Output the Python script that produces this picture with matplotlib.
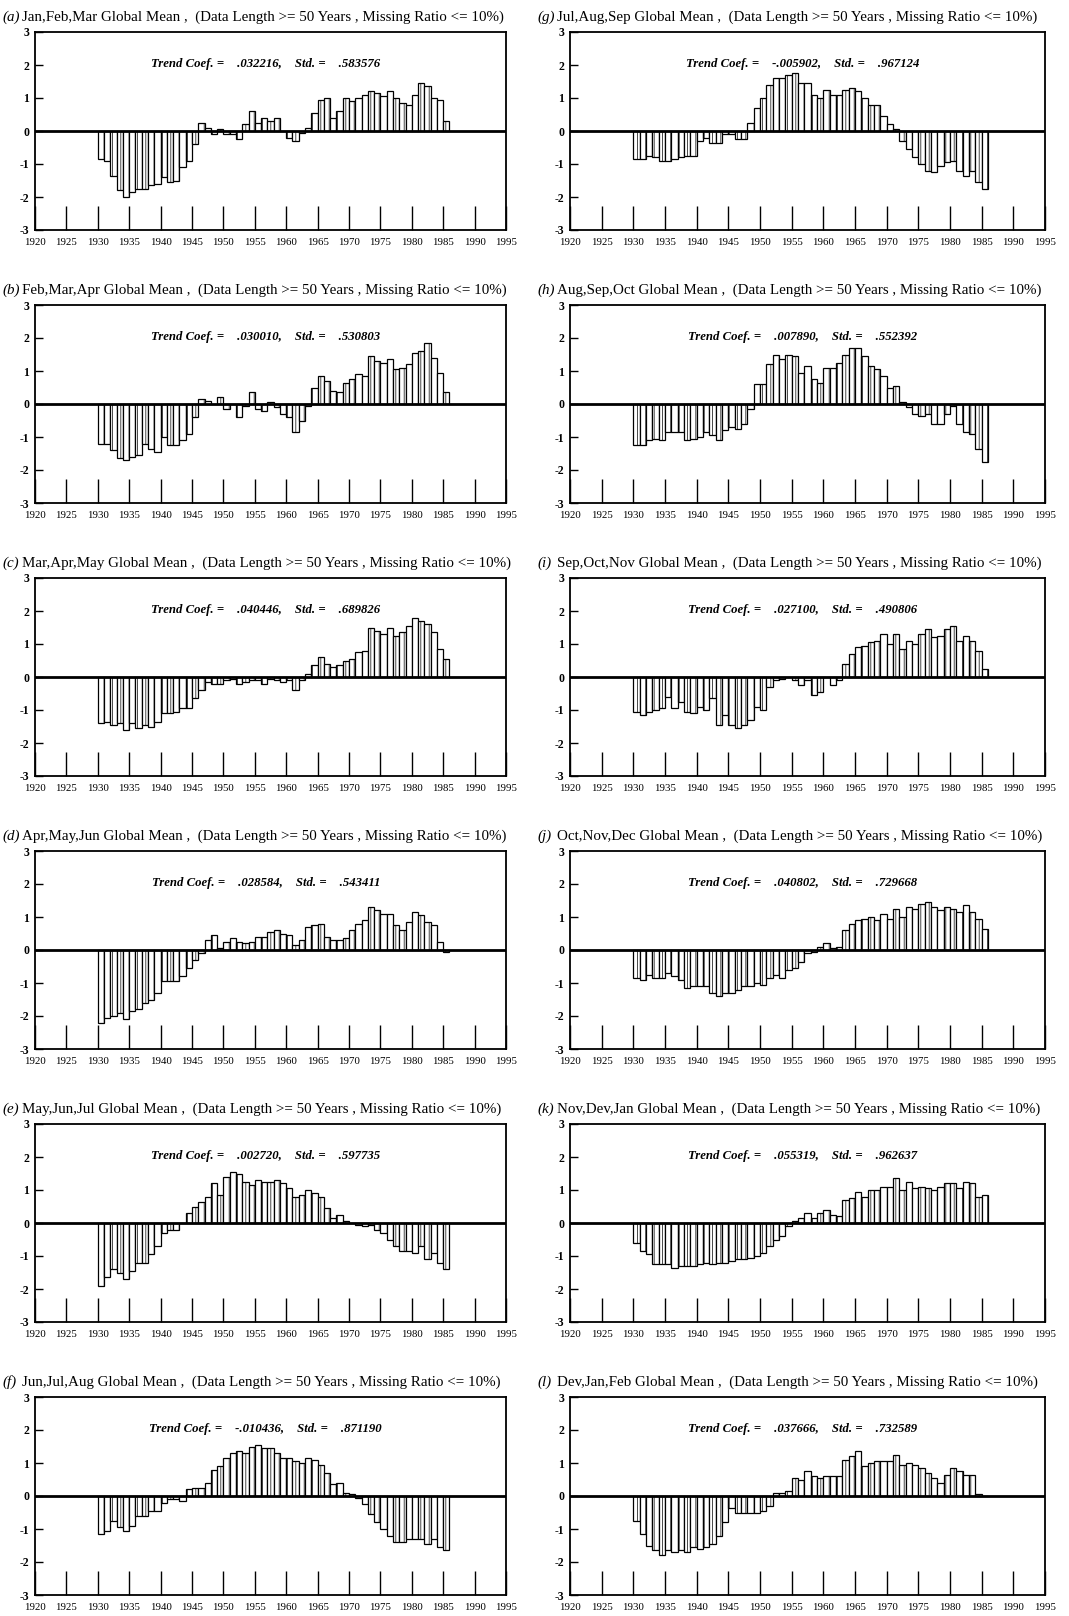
import matplotlib
matplotlib.use('Agg')
import matplotlib.pyplot as plt
import numpy as np

plt.rcParams['axes.unicode_minus'] = False
plt.rcParams['hatch.linewidth'] = 0.5
plt.rcParams['font.family'] = ['Liberation Serif', 'DejaVu Serif']

years = list(range(1930, 1986))

jfm = [-0.85, -0.9, -1.35, -1.8, -2.0, -1.85, -1.75, -1.75, -1.65, -1.6,
       -1.4, -1.55, -1.5, -1.1, -0.9, -0.4, 0.25, 0.1, -0.1, 0.05,
       -0.1, -0.1, -0.25, 0.2, 0.6, 0.25, 0.4, 0.3, 0.4, 0.0,
       -0.2, -0.3, -0.05, 0.1, 0.55, 0.95, 1.0, 0.4, 0.6, 1.0,
       0.9, 1.0, 1.1, 1.2, 1.15, 1.05, 1.2, 1.0, 0.85, 0.8,
       1.1, 1.45, 1.35, 1.0, 0.95, 0.3]
fma = [-1.2, -1.2, -1.4, -1.65, -1.7, -1.6, -1.55, -1.2, -1.35, -1.45,
       -1.0, -1.25, -1.25, -1.1, -0.9, -0.4, 0.15, 0.1, 0.0, 0.2,
       -0.15, 0.0, -0.4, -0.05, 0.35, -0.15, -0.2, 0.05, -0.1, -0.3,
       -0.4, -0.85, -0.5, -0.05, 0.5, 0.85, 0.7, 0.4, 0.35, 0.65,
       0.75, 0.9, 0.85, 1.45, 1.3, 1.25, 1.35, 1.05, 1.1, 1.2,
       1.55, 1.6, 1.85, 1.4, 0.95, 0.35]
mam = [-1.4, -1.35, -1.45, -1.4, -1.6, -1.4, -1.55, -1.45, -1.5, -1.35,
       -1.1, -1.1, -1.05, -0.95, -0.95, -0.65, -0.4, -0.15, -0.2, -0.2,
       -0.1, -0.05, -0.2, -0.15, -0.1, -0.1, -0.2, -0.05, -0.1, -0.15,
       -0.1, -0.4, -0.1, 0.1, 0.35, 0.6, 0.4, 0.3, 0.35, 0.5,
       0.55, 0.75, 0.8, 1.5, 1.4, 1.3, 1.5, 1.25, 1.35, 1.55,
       1.8, 1.7, 1.6, 1.35, 0.85, 0.55]
amj = [-2.2, -2.05, -2.0, -1.9, -2.1, -1.85, -1.8, -1.6, -1.5, -1.3,
       -0.95, -0.95, -0.95, -0.8, -0.55, -0.3, -0.1, 0.3, 0.45, 0.05,
       0.25, 0.35, 0.25, 0.2, 0.25, 0.4, 0.4, 0.55, 0.6, 0.5,
       0.45, 0.15, 0.3, 0.7, 0.75, 0.8, 0.4, 0.3, 0.3, 0.35,
       0.6, 0.8, 0.9, 1.3, 1.2, 1.1, 1.1, 0.75, 0.6, 0.85,
       1.15, 1.05, 0.85, 0.75, 0.25, -0.05]
mjj = [-1.9, -1.65, -1.4, -1.5, -1.7, -1.45, -1.2, -1.2, -0.95, -0.7,
       -0.3, -0.2, -0.2, 0.0, 0.3, 0.5, 0.65, 0.8, 1.2, 0.85,
       1.4, 1.55, 1.5, 1.25, 1.15, 1.3, 1.25, 1.25, 1.3, 1.2,
       1.05, 0.8, 0.85, 1.0, 0.9, 0.8, 0.45, 0.15, 0.25, 0.05,
       0.0, -0.05, -0.1, -0.05, -0.2, -0.3, -0.5, -0.7, -0.85, -0.85,
       -0.9, -0.7, -1.1, -0.9, -1.2, -1.4]
jja = [-1.15, -1.05, -0.75, -0.95, -1.05, -0.9, -0.6, -0.6, -0.45, -0.45,
       -0.2, -0.1, -0.1, -0.15, 0.2, 0.25, 0.25, 0.4, 0.8, 0.9,
       1.15, 1.3, 1.35, 1.3, 1.5, 1.55, 1.45, 1.45, 1.3, 1.15,
       1.15, 1.05, 1.0, 1.15, 1.1, 0.95, 0.7, 0.35, 0.4, 0.1,
       0.05, -0.05, -0.25, -0.55, -0.8, -1.0, -1.2, -1.4, -1.4, -1.3,
       -1.3, -1.3, -1.45, -1.3, -1.55, -1.65]
jas = [-0.85, -0.85, -0.75, -0.8, -0.9, -0.9, -0.85, -0.8, -0.75, -0.75,
       -0.3, -0.2, -0.35, -0.35, -0.1, -0.1, -0.25, -0.25, 0.25, 0.7,
       1.0, 1.4, 1.6, 1.6, 1.7, 1.75, 1.45, 1.45, 1.1, 1.0,
       1.25, 1.1, 1.1, 1.25, 1.3, 1.2, 1.0, 0.8, 0.8, 0.45,
       0.2, 0.05, -0.3, -0.55, -0.8, -1.0, -1.2, -1.25, -1.05, -0.95,
       -0.9, -1.2, -1.35, -1.2, -1.55, -1.75]
aso = [-1.25, -1.25, -1.1, -1.05, -1.1, -0.85, -0.85, -0.85, -1.1, -1.05,
       -1.0, -0.85, -0.95, -1.1, -0.8, -0.7, -0.75, -0.6, -0.15, 0.6,
       0.6, 1.2, 1.5, 1.35, 1.5, 1.45, 0.95, 1.15, 0.75, 0.65,
       1.1, 1.1, 1.25, 1.5, 1.7, 1.7, 1.45, 1.15, 1.05, 0.85,
       0.5, 0.55, 0.05, -0.1, -0.3, -0.35, -0.3, -0.6, -0.6, -0.3,
       -0.05, -0.6, -0.85, -0.9, -1.35, -1.75]
son = [-1.05, -1.15, -1.05, -1.0, -0.95, -0.6, -0.95, -0.75, -1.05, -1.1,
       -0.9, -1.0, -0.65, -1.45, -1.15, -1.45, -1.55, -1.45, -1.3, -0.9,
       -1.0, -0.3, -0.1, -0.05, 0.0, -0.1, -0.25, -0.1, -0.55, -0.45,
       0.0, -0.25, -0.1, 0.4, 0.7, 0.9, 0.95, 1.05, 1.1, 1.3,
       1.0, 1.3, 0.85, 1.1, 1.0, 1.3, 1.45, 1.2, 1.25, 1.45,
       1.55, 1.1, 1.25, 1.1, 0.8, 0.25]
ond = [-0.85, -0.9, -0.75, -0.85, -0.85, -0.7, -0.8, -0.9, -1.15, -1.1,
       -1.1, -1.1, -1.3, -1.4, -1.3, -1.3, -1.2, -1.1, -1.1, -1.0,
       -1.05, -0.85, -0.75, -0.85, -0.6, -0.55, -0.35, -0.1, -0.05, 0.1,
       0.2, 0.05, 0.1, 0.6, 0.8, 0.9, 0.95, 1.0, 0.9, 1.1,
       0.95, 1.25, 1.0, 1.3, 1.25, 1.4, 1.45, 1.3, 1.2, 1.3,
       1.25, 1.15, 1.35, 1.15, 0.95, 0.65]
ndj = [-0.6, -0.85, -0.95, -1.25, -1.25, -1.25, -1.35, -1.3, -1.3, -1.3,
       -1.25, -1.2, -1.25, -1.2, -1.2, -1.15, -1.1, -1.1, -1.05, -1.0,
       -0.9, -0.7, -0.5, -0.4, -0.1, 0.05, 0.15, 0.3, 0.15, 0.3,
       0.4, 0.25, 0.2, 0.7, 0.75, 0.95, 0.8, 1.0, 1.0, 1.1,
       1.1, 1.35, 1.0, 1.25, 1.05, 1.1, 1.05, 1.0, 1.1, 1.2,
       1.2, 1.05, 1.25, 1.2, 0.8, 0.85]
djf = [-0.75, -1.15, -1.5, -1.65, -1.8, -1.65, -1.7, -1.65, -1.7, -1.55,
       -1.6, -1.55, -1.45, -1.2, -0.8, -0.35, -0.5, -0.5, -0.5, -0.5,
       -0.45, -0.3, 0.1, 0.1, 0.15, 0.55, 0.5, 0.75, 0.6, 0.55,
       0.6, 0.6, 0.6, 1.1, 1.2, 1.35, 0.9, 1.0, 1.05, 1.05,
       1.05, 1.25, 0.95, 1.0, 0.95, 0.85, 0.7, 0.55, 0.4, 0.65,
       0.85, 0.75, 0.65, 0.65, 0.05, 0.0]

panel_letters = ['a', 'b', 'c', 'd', 'e', 'f', 'g', 'h', 'i', 'j', 'k', 'l']
season_names = ['Jan,Feb,Mar', 'Feb,Mar,Apr', 'Mar,Apr,May', 'Apr,May,Jun',
                'May,Jun,Jul', 'Jun,Jul,Aug', 'Jul,Aug,Sep', 'Aug,Sep,Oct',
                'Sep,Oct,Nov', 'Oct,Nov,Dec', 'Nov,Dev,Jan', 'Dev,Jan,Feb']
trend_coefs = ['.032216', '.030010', '.040446', '.028584', '.002720', '-.010436',
               '-.005902', '.007890', '.027100', '.040802', '.055319', '.037666']
stds = ['.583576', '.530803', '.689826', '.543411', '.597735', '.871190',
        '.967124', '.552392', '.490806', '.729668', '.962637', '.732589']
series = [jfm, fma, mam, amj, mjj, jja, jas, aso, son, ond, ndj, djf]

xticks = list(range(1920, 1996, 5))
yticks = [-3, -2, -1, 0, 1, 2, 3]

W, H = 1069, 1616
fig = plt.figure(figsize=(W / 100, H / 100), dpi=100)

col_left = [35, 570]
col_width = [471, 475]
row_top0 = 32
row_pitch = 273
ax_h = 198

for idx in range(12):
    col = idx // 6
    row = idx % 6
    x0 = col_left[col]
    w = col_width[col]
    top = row_top0 + row * row_pitch
    ax = fig.add_axes([x0 / W, 1 - (top + ax_h) / H, w / W, ax_h / H])
    ax.bar(years, series[idx], width=1.0, align='edge', facecolor='white',
           edgecolor='black', linewidth=0.9, hatch='||', zorder=2)
    ax.axhline(0, color='black', linewidth=2.0, zorder=3)
    ax.set_xlim(1920, 1995)
    ax.set_ylim(-3, 3)
    ax.set_xticks(xticks)
    ax.set_xticklabels([str(t) for t in xticks], fontsize=7.8)
    ax.set_yticks(yticks)
    ax.set_yticklabels([str(t) for t in yticks], fontsize=8.5, fontweight='bold')
    ax.tick_params(axis='x', direction='in', length=17, width=1.0, pad=6)
    ax.tick_params(axis='y', direction='in', length=6, width=1.0, pad=4)
    for s in ax.spines.values():
        s.set_linewidth(1.3)
    ax.text(-33 / w, 1 + 15 / ax_h, '(' + panel_letters[idx] + ')',
            transform=ax.transAxes, ha='left', va='center', fontsize=10.8,
            style='italic')
    ax.text(-13 / w, 1 + 15 / ax_h,
            season_names[idx] + ' Global Mean ,  (Data Length >= 50 Years , Missing Ratio <= 10%)',
            transform=ax.transAxes, ha='left', va='center', fontsize=10.8)
    ax.text(0.49, 0.84,
            'Trend Coef. =    ' + trend_coefs[idx] + ',    Std. =    ' + stds[idx],
            transform=ax.transAxes, ha='center', va='center', fontsize=9.2,
            style='italic', fontweight='bold')

fig.savefig('out.png', dpi=100)
